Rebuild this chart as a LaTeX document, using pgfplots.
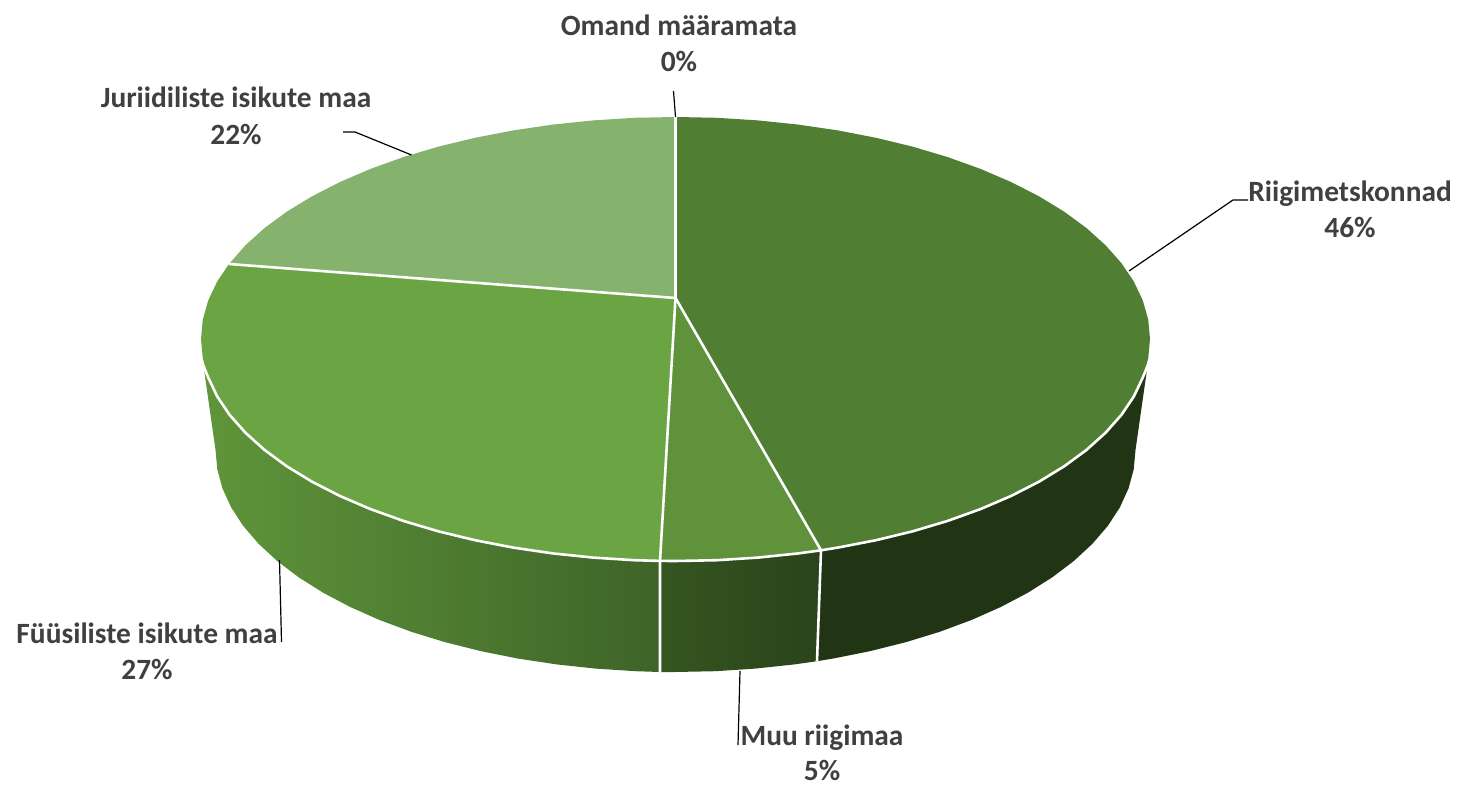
\documentclass[border=0pt]{standalone}
\usepackage{fontspec}
\setmainfont{Carlito}
\usepackage{pgfplots}
\pgfplotsset{compat=1.18}

\definecolor{riigi}{HTML}{507E33}
\definecolor{muu}{HTML}{5F923B}
\definecolor{fyys}{HTML}{6BA543}
\definecolor{juri}{HTML}{85B36E}
\definecolor{riigiside}{HTML}{213515}
\definecolor{muuleft}{HTML}{355620}
\definecolor{muuright}{HTML}{2A431B}
\definecolor{fyysleft}{HTML}{5F953A}
\definecolor{fyysright}{HTML}{3E6428}
\definecolor{labeltext}{HTML}{404040}

\tikzset{
  lbl/.style={font=\fontsize{14.7}{17}\selectfont\bfseries,text=labeltext,anchor=base,inner sep=0pt},
  leader/.style={black,line width=0.6pt},
  seam/.style={white,line width=1.3pt,line join=round},
}

\begin{document}
\begin{tikzpicture}
\begin{axis}[
    scale only axis,
    width=730pt,height=392.5pt,
    xmin=0,xmax=1460,
    ymin=0,ymax=785,
    y dir=reverse,
    axis lines=none,
    clip=false,
  ]

% keeps the page at the full picture size
\addplot[draw=none] coordinates {(0,0) (1460,785)};

% sides, pixel coordinates of the picture
\addplot[draw=none,fill=riigiside] coordinates {
  (1147.5,366) (1142.8,377.5) (1133.8,396.5) (1121.4,414.9) (1105.5,432.8) (1086.4,450)
  (1064.2,466.3) (1039,481.7) (1011,496) (980.5,509.1) (947.7,520.9) (912.8,531.3)
  (876,540.2) (837.8,547.6) (821,550.3)
  (817,661.2) (832.8,658.6) (869.9,651.2) (905.5,642.3) (939.4,631.9) (971.2,620.1)
  (1000.8,607) (1027.9,592.7) (1052.3,577.3) (1073.8,561) (1092.4,543.8) (1107.8,525.9)
  (1119.8,507.5) (1128.5,488.5) (1133.7,469.4) (1135.5,450)
} --cycle;
\addplot[draw=none,left color=muuleft,right color=muuright] coordinates {
  (821,550.3) (798.3,553.4) (757.9,557.6) (716.9,560.2) (675.5,561) (660,560.9)
  (660,672) (675.5,672) (715.6,671.2) (755.4,668.6) (794.5,664.4) (817,661.2)
} --cycle;
\addplot[draw=none,left color=fyysleft,right color=fyysright] coordinates {
  (203.5,366) (208.2,377.5) (217.2,396.5) (229.6,414.9) (245.5,432.8) (264.6,450)
  (286.8,466.3) (312,481.7) (340,496) (370.5,509.1) (403.3,520.9) (438.2,531.3)
  (475,540.2) (513.2,547.6) (552.7,553.4) (593.1,557.6) (634.1,560.2) (660,560.9)
  (660,672) (635.4,671.2) (595.6,668.6) (556.5,664.4) (518.2,658.6) (481.1,651.2)
  (445.5,642.3) (411.6,631.9) (379.8,620.1) (350.2,607) (323.1,592.7) (298.7,577.3)
  (277.2,561) (258.6,543.8) (243.2,525.9) (231.2,507.5) (222.5,488.5) (217.3,469.4)
  (215.5,450)
} --cycle;

% top slices
\addplot[draw=none,fill=riigi] coordinates {
  (675.5,298) (675.5,117) (716.9,117.8) (757.9,120.4) (798.3,124.6) (837.8,130.4)
  (876,137.8) (912.8,146.7) (947.7,157.1) (980.5,168.9) (1011,182) (1039,196.3)
  (1064.2,211.7) (1086.4,228) (1105.5,245.2) (1121.4,263.1) (1133.8,281.5) (1142.8,300.5)
  (1148.2,319.6) (1150,339) (1148.2,358.4) (1142.8,377.5) (1133.8,396.5) (1121.4,414.9)
  (1105.5,432.8) (1086.4,450) (1064.2,466.3) (1039,481.7) (1011,496) (980.5,509.1)
  (947.7,520.9) (912.8,531.3) (876,540.2) (837.8,547.6) (821,550.3)
} --cycle;
\addplot[draw=none,fill=muu] coordinates {
  (675.5,298) (821,550.3) (798.3,553.4) (757.9,557.6) (716.9,560.2) (675.5,561) (660,560.9)
} --cycle;
\addplot[draw=none,fill=fyys] coordinates {
  (675.5,298) (660,560.9) (634.1,560.2) (593.1,557.6) (552.7,553.4) (513.2,547.6)
  (475,540.2) (438.2,531.3) (403.3,520.9) (370.5,509.1) (340,496) (312,481.7)
  (286.8,466.3) (264.6,450) (245.5,432.8) (229.6,414.9) (217.2,396.5) (208.2,377.5)
  (202.8,358.4) (201,339) (202.8,319.6) (208.2,300.5) (217.2,281.5) (229,264)
} --cycle;
\addplot[draw=none,fill=juri] coordinates {
  (675.5,298) (229,264) (245.5,245.2) (264.6,228) (286.8,211.7) (312,196.3) (340,182)
  (370.5,168.9) (403.3,157.1) (438.2,146.7) (475,137.8) (513.2,130.4) (552.7,124.6)
  (593.1,120.4) (634.1,117.8) (675.5,117)
} --cycle;

% white seams
\addplot[seam] coordinates {
  (203.5,366) (208.2,377.5) (217.2,396.5) (229.6,414.9) (245.5,432.8) (264.6,450)
  (286.8,466.3) (312,481.7) (340,496) (370.5,509.1) (403.3,520.9) (438.2,531.3)
  (475,540.2) (513.2,547.6) (552.7,553.4) (593.1,557.6) (634.1,560.2) (660,560.9)
  (675.5,561) (716.9,560.2) (757.9,557.6) (798.3,553.4) (821,550.3) (837.8,547.6)
  (876,540.2) (912.8,531.3) (947.7,520.9) (980.5,509.1) (1011,496) (1039,481.7)
  (1064.2,466.3) (1086.4,450) (1105.5,432.8) (1121.4,414.9) (1133.8,396.5) (1142.8,377.5) (1147.5,366)
};
\addplot[seam] coordinates {(675.5,117) (675.5,298)};
\addplot[seam] coordinates {(229,264) (675.5,298) (821,550.3)};
\addplot[seam] coordinates {(675.5,298) (660,560.9) (660,672)};
\addplot[seam] coordinates {(821,550.3) (817,661.2)};

% leader lines
\addplot[leader] coordinates {(673.5,91) (675.5,117)};
\addplot[leader] coordinates {(343,132) (355,132) (411.5,155)};
\addplot[leader] coordinates {(1248,200) (1233,200) (1129,271)};
\addplot[leader] coordinates {(279.5,560) (281.5,642)};
\addplot[leader] coordinates {(740,671) (738,745)};

% labels
\node[lbl] at (axis cs:679,36) {Omand määramata};
\node[lbl] at (axis cs:679,72) {0\%};
\node[lbl] at (axis cs:236,108) {Juriidiliste isikute maa};
\node[lbl] at (axis cs:236,144.5) {22\%};
\node[lbl] at (axis cs:1350,202) {Riigimetskonnad};
\node[lbl] at (axis cs:1350,238) {46\%};
\node[lbl] at (axis cs:147,643) {Füüsiliste isikute maa};
\node[lbl] at (axis cs:147,679) {27\%};
\node[lbl] at (axis cs:822,745) {Muu riigimaa};
\node[lbl] at (axis cs:822,780) {5\%};
\end{axis}
\end{tikzpicture}
\end{document}
